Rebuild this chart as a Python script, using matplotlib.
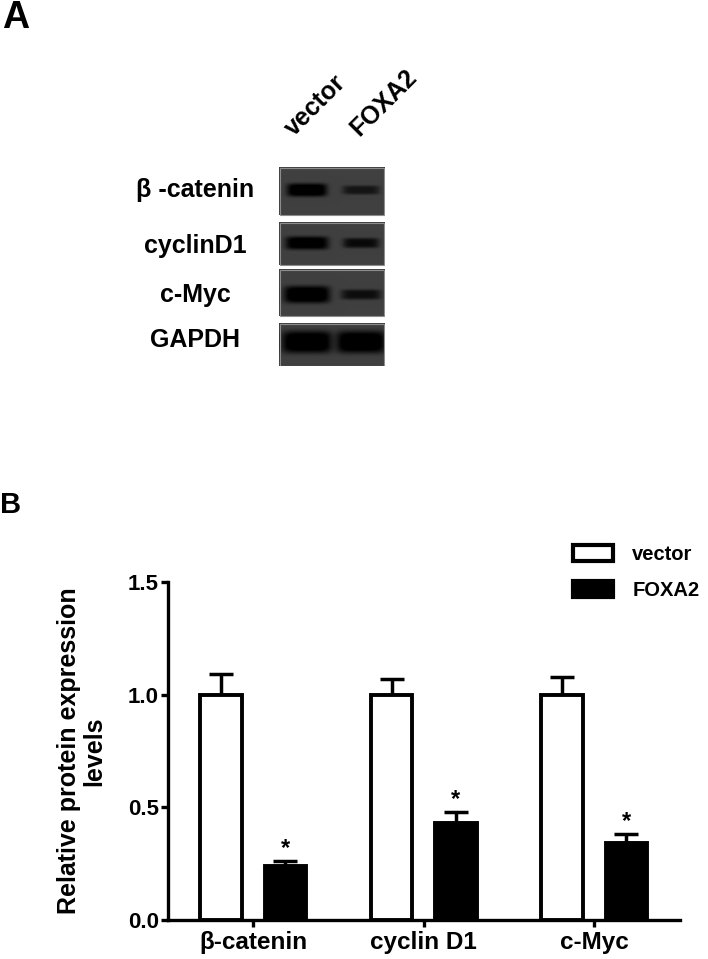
#!/usr/bin/env python3
# western blot + quantification bar chart (FOXA2 vs vector)
import matplotlib
matplotlib.use("Agg")
import numpy as np
import matplotlib.pyplot as plt
from matplotlib.patches import Patch, Rectangle

# ---- panel B data ----
genes = ["β-catenin", "cyclin D1", "c-Myc"]
vector_mean = [1.0, 1.0, 1.0]
vector_err = [0.09, 0.07, 0.08]
foxa2_mean = [0.24, 0.43, 0.34]
foxa2_err = [0.02, 0.05, 0.04]
signif = ["*", "*", "*"]
yticks = [0.0, 0.5, 1.0, 1.5]

# ---- panel A data (relative band darkness; columns = vector, FOXA2) ----
blot_labels = ["β -catenin", "cyclinD1", "c-Myc", "GAPDH"]
lane_labels = ["vector", "FOXA2"]
band_density = [[1.0, 0.55], [0.95, 0.7], [1.0, 0.65], [1.0, 1.0]]

plt.rcParams["font.family"] = ["Liberation Sans", "DejaVu Sans"]
plt.rcParams["font.weight"] = "bold"

W, H = 708, 959


def fbox(x0, y0, x1, y1):
    """pixel box (top-left origin) -> figure fraction rect"""
    return [x0 / W, 1 - y1 / H, (x1 - x0) / W, (y1 - y0) / H]


fig = plt.figure(figsize=(W / 100, H / 100), dpi=100)

# ---------------- panel A: blot ----------------
x0b, x1b, y0b, y1b = 279, 385, 167, 366
row_span = [(167, 215), (222, 265), (269, 316), (323, 366)]
band_cy = [190, 243, 294.5, 342]
lane_cx = [307, 361]
band_w = [[40, 37], [43, 36], [46, 40], [50, 49]]
band_h = [[13, 9], [13, 10], [17, 10], [22, 22]]

xs = np.arange(x0b, x1b) + 0.5
ys = np.arange(y0b, y1b) + 0.5
X, Y = np.meshgrid(xs, ys)
img = np.ones_like(X)
for r, (top, bot) in enumerate(row_span):
    inside = (Y >= top) & (Y < bot)
    dark = np.zeros_like(X)
    for j, cx in enumerate(lane_cx):
        prof = (np.exp(-np.abs((X - cx) / (band_w[r][j] / 2)) ** 6)
                * np.exp(-np.abs((Y - band_cy[r]) / (band_h[r][j] / 2)) ** 4))
        dark += 1.25 * band_density[r][j] * prof
    shade = 0.25 * (1 - np.clip(dark, 0, 1))
    img[inside] = shade[inside]

ax_blot = fig.add_axes(fbox(x0b, y0b, x1b, y1b))
ax_blot.imshow(img, cmap="gray", vmin=0, vmax=1, extent=(x0b, x1b, y1b, y0b),
               aspect="auto", interpolation="nearest")
for top, bot in row_span:
    ax_blot.add_patch(Rectangle((x0b + 0.5, top + 0.5), x1b - x0b - 1, bot - top - 1,
                                fill=False, ec="#8c8c8c", lw=0.8))
ax_blot.axis("off")

label_base = [197, 253, 302, 347]
for lab, b in zip(blot_labels, label_base):
    fig.text(195 / W, 1 - b / H, lab, ha="center", va="baseline", fontsize=18, fontweight="bold")

lane_anchor = [(294, 137), (359, 137)]
for lab, (lx, ly) in zip(lane_labels, lane_anchor):
    fig.text(lx / W, 1 - ly / H, lab, rotation=45, rotation_mode="anchor",
             ha="left", va="baseline", fontsize=18, fontweight="bold")

fig.text(2 / W, 1 - 28 / H, "A", fontsize=27, fontweight="bold", va="baseline")
fig.text(0 / W, 1 - 513 / H, "B", fontsize=21, fontweight="bold", va="baseline")

# ---------------- panel B: bars ----------------
ax = fig.add_axes(fbox(168, 582, 679.5, 920))
x = np.arange(len(genes))
off, bw = 0.188, 0.243

ax.bar(x - off, vector_mean, bw, color="white", edgecolor="black", lw=2.8, zorder=3)
ax.bar(x + off, foxa2_mean, bw, color="black", edgecolor="black", lw=2.8, zorder=3)
ax.errorbar(x - off, vector_mean, yerr=[np.zeros(len(x)), vector_err], fmt="none",
            ecolor="black", elinewidth=2.5, capsize=8.5, capthick=2.5, zorder=2)
ax.errorbar(x + off, foxa2_mean, yerr=[np.zeros(len(x)), foxa2_err], fmt="none",
            ecolor="black", elinewidth=2.5, capsize=8.5, capthick=2.5, zorder=2)

for i, s in enumerate(signif):
    ax.text(x[i] + off, foxa2_mean[i] + foxa2_err[i] + 0.005, s, ha="center", va="bottom",
            fontsize=17, fontweight="bold")

ax.set_xlim(-0.5, 2.5)
ax.set_ylim(0, 1.5)
ax.set_xticks(x, genes)
ax.set_yticks(yticks, [f"{v:.1f}" for v in yticks])
for side in ("top", "right"):
    ax.spines[side].set_visible(False)
for side in ("left", "bottom"):
    ax.spines[side].set_linewidth(2.4)
ax.tick_params(axis="both", width=2.4, length=5, direction="out")
ax.tick_params(axis="y", labelsize=16, pad=1.5)
ax.tick_params(axis="x", labelsize=17.5, pad=3)

ax.set_ylabel("Relative protein expression\nlevels", fontsize=18, fontweight="bold", linespacing=1.05)
ax.yaxis.set_label_coords((106 - 168) / 511.5, 0.5)

handles = [Patch(fc="white", ec="black", lw=3, label="vector"),
           Patch(fc="black", ec="black", lw=3, label="FOXA2")]
fig.legend(handles=handles, loc="upper left", bbox_to_anchor=(573 / W, 1 - 545 / H),
           frameon=False, fontsize=14.5, handlelength=2.0, handleheight=0.8,
           handletextpad=0.95, labelspacing=0.85, borderpad=0, borderaxespad=0)

fig.savefig("out.png", dpi=100)
plt.close(fig)
